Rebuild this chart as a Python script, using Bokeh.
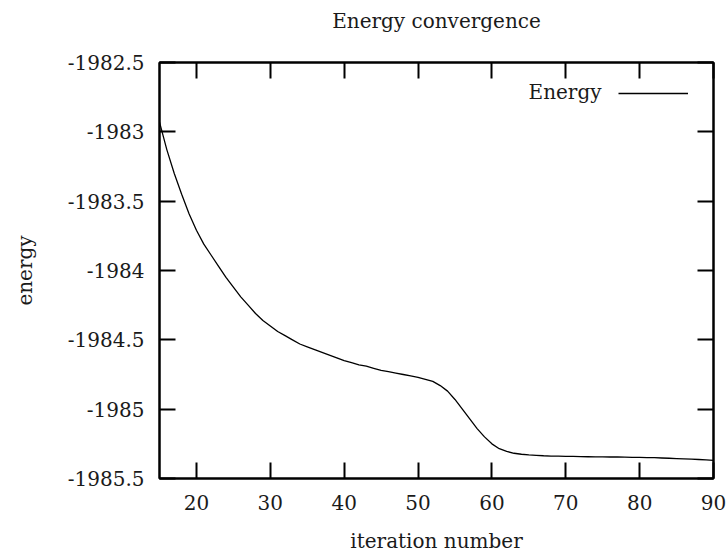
from bokeh.plotting import figure
from bokeh.models import Range1d, LinearAxis, FixedTicker, CustomJSTickFormatter, Legend, LegendItem, Label, Title
from bokeh.embed import file_html
from bokeh.resources import INLINE

iterations = list(range(15, 91))
energy = [
    -1982.93, -1983.13, -1983.30, -1983.45, -1983.59, -1983.71, -1983.81, -1983.89, -1983.97, -1984.05,  # 15-24
    -1984.12, -1984.19, -1984.25, -1984.31, -1984.36, -1984.40, -1984.44, -1984.47, -1984.50, -1984.53,  # 25-34
    -1984.55, -1984.57, -1984.59, -1984.61, -1984.63, -1984.65, -1984.665, -1984.68, -1984.69, -1984.705,  # 35-44
    -1984.72, -1984.73, -1984.74, -1984.75, -1984.76, -1984.77, -1984.785, -1984.80, -1984.83, -1984.87,  # 45-54
    -1984.93, -1985.00, -1985.07, -1985.14, -1985.20, -1985.25, -1985.285, -1985.305, -1985.318, -1985.325,  # 55-64
    -1985.33, -1985.333, -1985.336, -1985.338, -1985.339, -1985.34, -1985.341, -1985.342, -1985.343, -1985.344,  # 65-74
    -1985.344, -1985.345, -1985.345, -1985.346, -1985.347, -1985.348, -1985.349, -1985.350, -1985.352, -1985.354,  # 75-84
    -1985.356, -1985.358, -1985.360, -1985.363, -1985.366, -1985.370,  # 85-90
]
x_ticks = [20, 30, 40, 50, 60, 70, 80, 90]
y_ticks = [-1985.5, -1985.0, -1984.5, -1984.0, -1983.5, -1983.0, -1982.5]
y_tick_labels = ["-1985.5", "-1985", "-1984.5", "-1984", "-1983.5", "-1983", "-1982.5"]
series_name = "Energy"
chart_title = "Energy convergence"

FONT = "DejaVu Serif"
FS = "20px"
TXT = "#1a1a1a"

p = figure(width=727, height=557, output_backend="svg", toolbar_location=None,
           x_range=Range1d(15, 90), y_range=Range1d(-1985.5, -1982.5),
           title=chart_title, x_axis_label="iteration number", y_axis_label="energy",
           min_border_left=159, min_border_right=14, min_border_top=62, min_border_bottom=79)
p.title.align = "center"
p.title.text_font = FONT
p.title.text_font_size = FS
p.title.text_font_style = "normal"
p.title.text_color = TXT
p.title.standoff = 0

p.grid.visible = False
p.outline_line_color = "black"
p.outline_line_width = 2

empty = CustomJSTickFormatter(code="return ''")

def style(ax, ticks):
    ax.ticker = FixedTicker(ticks=ticks)
    ax.axis_line_color = "black"
    ax.axis_line_width = 2
    ax.major_tick_line_color = "black"
    ax.major_tick_line_width = 2
    ax.major_tick_in = 16
    ax.major_tick_out = 0
    ax.minor_tick_line_color = None
    ax.major_label_text_font = FONT
    ax.major_label_text_font_size = FS
    ax.major_label_text_color = TXT
    ax.axis_label_text_font = FONT
    ax.axis_label_text_font_size = FS
    ax.axis_label_text_font_style = "normal"
    ax.axis_label_text_color = TXT

xa = p.xaxis[0]
style(xa, x_ticks)
xa.major_label_standoff = 16
xa.axis_label_standoff = 16

ya = p.yaxis[0]
style(ya, y_ticks)
ya.major_label_overrides = {t: l for t, l in zip(y_ticks, y_tick_labels)}
ya.major_label_standoff = 15
ya.axis_label_standoff = 28

top = LinearAxis(formatter=empty)
style(top, x_ticks)
top.major_label_standoff = 0
p.add_layout(top, "above")

# invisible spacer between the top axis and the title
spacer = Title(text=" ", text_font_size="1px", standoff=27)
p.add_layout(spacer, "above")

right = LinearAxis(formatter=empty)
style(right, y_ticks)
right.major_label_standoff = 0
p.add_layout(right, "right")

r = p.line(iterations, energy, line_color="black", line_width=1.3)

legend = Legend(items=[LegendItem(label=" ", renderers=[r])], location="top_right",
                glyph_width=70, glyph_height=12, label_standoff=0, label_width=0,
                label_text_font_size="1px", padding=0, margin=25,
                border_line_color=None, background_fill_alpha=0)
p.add_layout(legend)

p.add_layout(Label(x=74.84, y=-1982.716, text=series_name, text_align="right", text_baseline="middle",
                   text_font=FONT, text_font_size=FS, text_color=TXT))

open("out.html", "w").write(file_html(p, INLINE))
